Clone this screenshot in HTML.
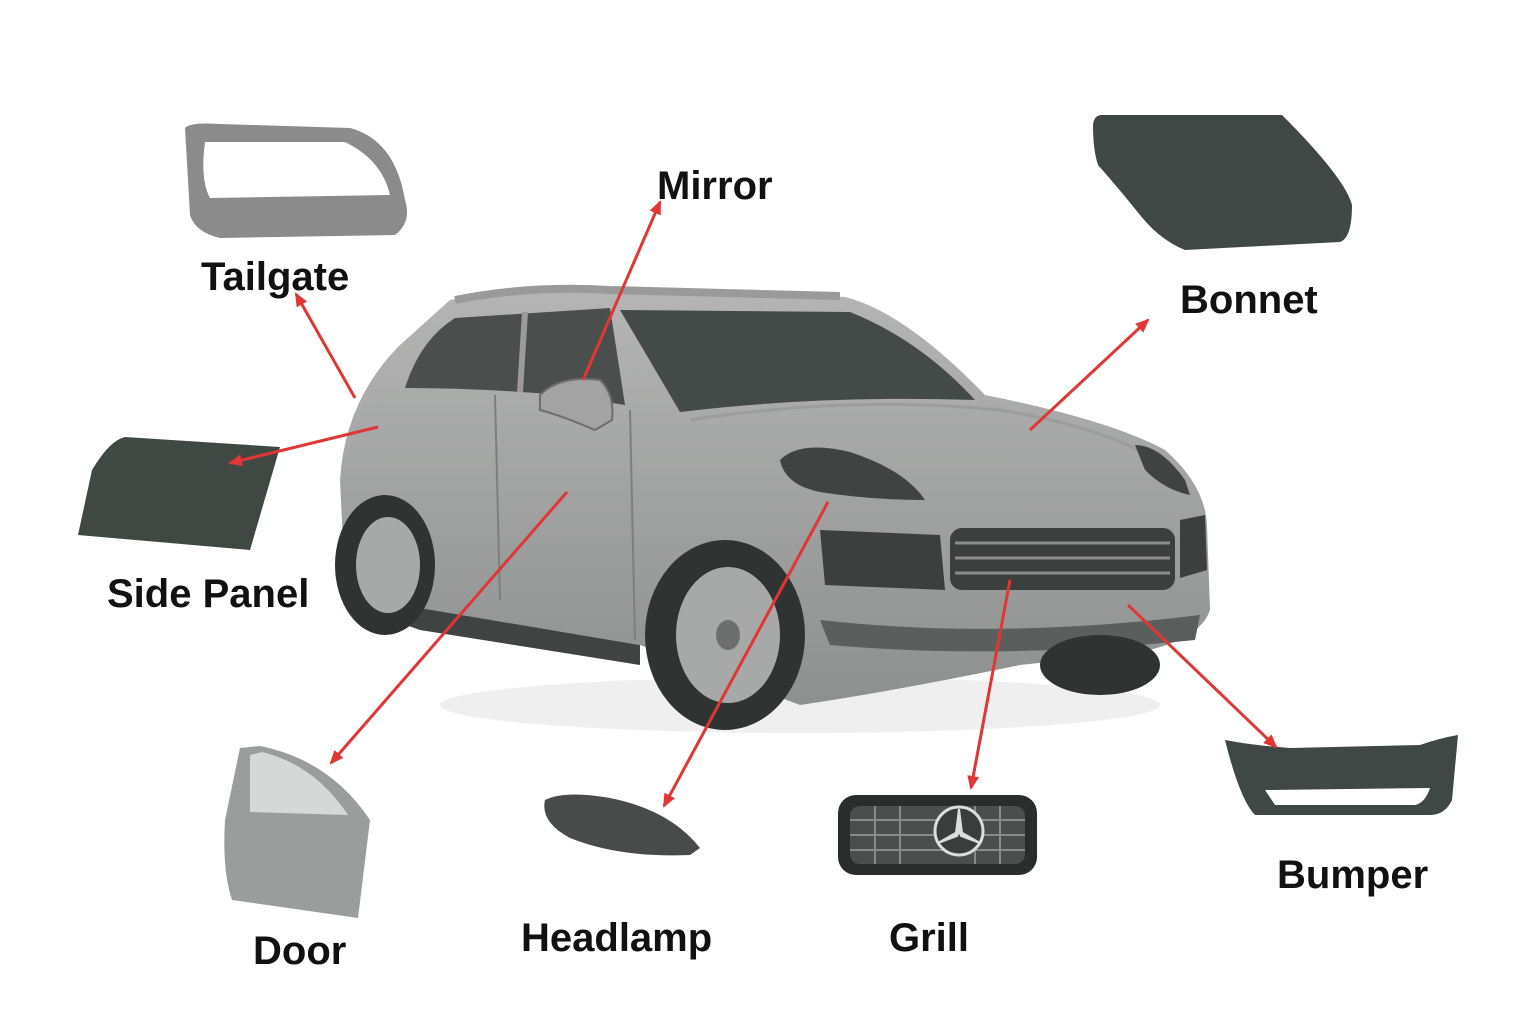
<!DOCTYPE html>
<html><head><meta charset="utf-8"><style>
html,body{margin:0;padding:0;background:#fff;}
svg{display:block;}
text{font-family:"Liberation Sans",sans-serif;font-weight:600;fill:#111;}
</style></head><body>
<svg width="1536" height="1024" viewBox="0 0 1536 1024" xmlns="http://www.w3.org/2000/svg">
<defs>
<marker id="ah" markerWidth="14" markerHeight="14" refX="12" refY="7" orient="auto" markerUnits="userSpaceOnUse">
<path d="M0,1 L14,7 L0,13 z" fill="#e03636"/></marker>
<linearGradient id="body" x1="0" y1="0" x2="0" y2="1"><stop offset="0" stop-color="#b4b5b4"/><stop offset="1" stop-color="#8e908f"/></linearGradient>
</defs>

<ellipse cx="800" cy="705" rx="360" ry="28" fill="#efefef"/>
<path d="M340,480 Q345,400 400,345 L450,300 Q520,283 610,288 L845,297 Q905,312 985,395 Q1110,420 1165,450 Q1205,485 1207,525 L1210,610 Q1200,640 1140,652 L1020,665 Q900,690 800,705 L640,645 L420,608 L345,585 Z" fill="url(#body)"/>
<path d="M455,300 Q530,285 610,290 L840,296" stroke="#9a9a9a" stroke-width="8" fill="none"/>
<path d="M405,388 Q420,340 455,318 L610,308 L625,405 L560,395 Q480,388 405,388 Z" fill="#4a4f4d"/>
<line x1="525" y1="312" x2="520" y2="392" stroke="#9a9a9a" stroke-width="6"/>
<path d="M620,310 L850,312 Q920,340 975,400 Q820,395 680,412 Z" fill="#444a47"/>
<path d="M540,395 Q560,375 600,380 Q615,395 612,420 L595,430 Q560,415 540,410 Z" fill="#a3a3a3" stroke="#6e6e6e" stroke-width="2"/>
<path d="M690,420 Q850,395 1000,410 Q1120,430 1170,470" stroke="#9c9c9c" stroke-width="3" fill="none"/>
<path d="M780,460 Q800,440 850,452 Q905,470 925,500 Q870,500 820,492 Q785,485 780,460 Z" fill="#3f4442"/>
<path d="M1135,445 Q1160,445 1185,480 L1190,495 Q1165,490 1145,470 Z" fill="#3f4442"/>
<rect x="950" y="528" width="225" height="62" rx="12" fill="#3b3f3d"/>
<g stroke="#8c8c8c" stroke-width="3">
<line x1="955" y1="543" x2="1170" y2="543"/><line x1="955" y1="558" x2="1170" y2="558"/><line x1="955" y1="573" x2="1170" y2="573"/></g>
<path d="M820,530 L940,535 L945,590 L825,585 Z" fill="#3b3f3d"/>
<path d="M1180,520 L1205,515 L1207,570 L1180,578 Z" fill="#3b3f3d"/>
<path d="M820,620 Q1000,640 1200,615 L1195,640 Q1000,660 830,645 Z" fill="#5a5e5c"/>
<path d="M345,585 L420,608 L640,645 L640,665 L420,630 L350,605 Z" fill="#3f4442"/>
<ellipse cx="725" cy="635" rx="80" ry="95" fill="#2f3332"/>
<ellipse cx="728" cy="635" rx="52" ry="68" fill="#a7a9a8"/>
<ellipse cx="728" cy="635" rx="12" ry="15" fill="#6d6f6e"/>
<ellipse cx="385" cy="565" rx="50" ry="70" fill="#2f3332"/>
<ellipse cx="388" cy="565" rx="32" ry="48" fill="#a7a9a8"/>
<ellipse cx="1100" cy="665" rx="60" ry="30" fill="#2f3332"/>
<path d="M495,395 L500,600 M630,410 L635,640" stroke="#7e7e7e" stroke-width="2" fill="none"/>

<path d="M185,128 Q190,122 220,124 L350,128 Q395,140 405,200 Q412,222 395,235 L220,238 Q195,232 190,215 Z" fill="#8b8b8b"/>
<path d="M205,142 L345,142 Q382,160 390,195 L210,198 Q200,180 205,142 Z" fill="#fff"/>
<path d="M78,535 L92,470 Q110,440 125,437 L280,447 L250,550 Z" fill="#404844"/>
<path d="M1102,115 L1282,115 Q1345,178 1352,205 Q1352,238 1340,242 L1185,250 Q1160,240 1140,215 Q1120,190 1098,165 Q1093,150 1093,125 Q1094,115 1102,115 Z" fill="#3f4844"/>
<path d="M240,748 L260,746 Q330,760 370,820 L358,918 L232,900 Q222,870 225,820 Z" fill="#9b9d9c"/>
<path d="M250,755 L262,752 Q315,765 348,815 L250,812 Z" fill="#d6d8d7"/>
<path d="M545,800 Q565,790 610,798 Q670,810 700,848 L690,855 Q620,858 570,838 Q540,822 545,800 Z" fill="#474b49"/>
<rect x="838" y="795" width="199" height="80" rx="18" fill="#2a2d2c"/>
<rect x="850" y="806" width="175" height="58" rx="10" fill="#4a4e4c"/>
<g stroke="#8a8a8a" stroke-width="2">
<line x1="850" y1="820" x2="1025" y2="820"/><line x1="850" y1="835" x2="1025" y2="835"/><line x1="850" y1="850" x2="1025" y2="850"/>
<line x1="875" y1="806" x2="875" y2="864"/><line x1="900" y1="806" x2="900" y2="864"/><line x1="1000" y1="806" x2="1000" y2="864"/><line x1="975" y1="806" x2="975" y2="864"/></g>
<circle cx="959" cy="831" r="24" fill="#3a3d3c" stroke="#ddd" stroke-width="3"/>
<path d="M959,809 L962,833 L959,831 L956,833 Z M959,831 L980,843 L961,836 Z M959,831 L938,843 L957,836 Z" fill="#ddd" stroke="#ddd" stroke-width="2"/>
<path d="M1225,740 Q1250,745 1290,748 L1420,745 Q1440,738 1458,735 L1452,800 Q1445,815 1430,815 L1255,815 Q1240,800 1225,740 Z" fill="#3f4844"/>
<path d="M1265,790 L1430,788 Q1425,803 1415,805 L1275,805 Z" fill="#fff"/>

<g stroke="#e03636" stroke-width="3" marker-end="url(#ah)">
<line x1="583" y1="380" x2="660" y2="202"/>
<line x1="355" y1="398" x2="296" y2="294"/>
<line x1="378" y1="427" x2="230" y2="463"/>
<line x1="1030" y1="430" x2="1148" y2="320"/>
<line x1="567" y1="492" x2="331" y2="763"/>
<line x1="828" y1="502" x2="664" y2="806"/>
<line x1="1010" y1="580" x2="971" y2="788"/>
<line x1="1128" y1="605" x2="1276" y2="747"/>
</g>

<text x="657" y="199" font-size="40">Mirror</text>
<text x="201" y="290" font-size="40">Tailgate</text>
<text x="1180" y="313" font-size="40">Bonnet</text>
<text x="107" y="607" font-size="40">Side Panel</text>
<text x="253" y="964" font-size="40">Door</text>
<text x="521" y="951" font-size="40">Headlamp</text>
<text x="889" y="951" font-size="40">Grill</text>
<text x="1277" y="888" font-size="40">Bumper</text>
</svg>
</body></html>
